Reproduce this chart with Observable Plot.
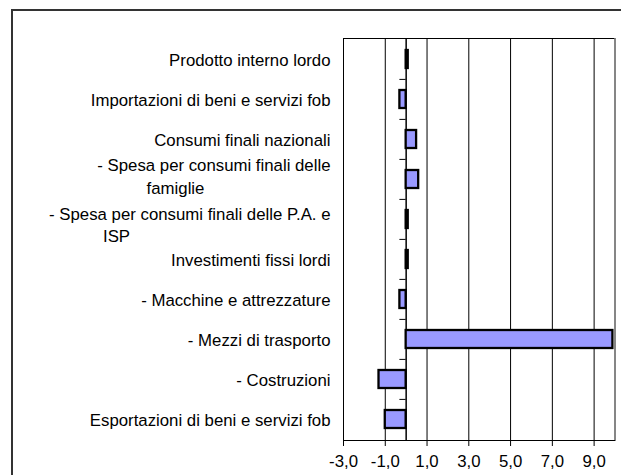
<!DOCTYPE html>
<html>
<head>
<meta charset="utf-8">
<script src="https://cdn.jsdelivr.net/npm/d3@7"></script>
<script src="https://cdn.jsdelivr.net/npm/@observablehq/plot@0.6"></script>
<style>
  html, body { margin: 0; padding: 0; background: #fff; }
  #wrap { position: relative; width: 621px; height: 475px; overflow: hidden; }
  #outer { position: absolute; z-index: 2; left: 11px; top: 9px; width: 700px; height: 600px; border: 2px solid #333; box-sizing: border-box; pointer-events: none; }
  #chart { position: absolute; z-index: 1; left: 0; top: 0; }
</style>
</head>
<body>
<div id="wrap"><div id="outer"></div><div id="chart"></div></div>
<script>
const categories = [
  "Prodotto interno lordo",
  "Importazioni di beni e servizi fob",
  "Consumi finali nazionali",
  "- Spesa per consumi finali delle famiglie",
  "- Spesa per consumi finali delle P.A. e ISP",
  "Investimenti fissi lordi",
  "- Macchine e attrezzature",
  "- Mezzi di trasporto",
  "- Costruzioni",
  "Esportazioni di beni e servizi fob"
];
const values = [0.1, -0.3, 0.5, 0.6, 0.1, 0.1, -0.3, 9.9, -1.3, -1.0];
const labelLines = [
  ["Prodotto interno lordo"],
  ["Importazioni di beni e servizi fob"],
  ["Consumi finali nazionali"],
  ["- Spesa per consumi finali delle", "famiglie"],
  ["- Spesa per consumi finali delle P.A. e", "ISP"],
  ["Investimenti fissi lordi"],
  ["- Macchine e attrezzature"],
  ["- Mezzi di trasporto"],
  ["- Costruzioni"],
  ["Esportazioni di beni e servizi fob"]
];
const xTicks = [-3, -1, 1, 3, 5, 7, 9];

const rows = categories.map((c, i) => ({cat: c, value: values[i], lines: labelLines[i]}));
const single = rows.filter(d => d.lines.length === 1);
const wrapA = rows.filter(d => d.lines.length > 1).slice(0, 1);
const wrapB = rows.filter(d => d.lines.length > 1).slice(1, 2);

const W = 621, H = 475, mL = 343, mT = 38, mR = 6.5, mB = 35;
const step = (H - mT - mB) / categories.length;
const fmt = v => (v < 0 ? "-" : "") + Math.abs(v).toFixed(1).replace(".", ",");
const font = "'Liberation Sans', Arial, sans-serif";
const fs = "16.8px";
const txt = {frameAnchor: "left", fill: "#000", fontSize: fs, fontFamily: font};

const chart = Plot.plot({
  width: W,
  height: H,
  marginLeft: mL,
  marginTop: mT,
  marginRight: mR,
  marginBottom: mB,
  style: {fontFamily: font, fontSize: fs, background: "transparent", color: "#000"},
  x: {domain: [-3, 10], ticks: xTicks, tickFormat: fmt, label: null},
  y: {domain: categories, paddingInner: 0.55, paddingOuter: 0.275, axis: null, label: null},
  marks: [
    Plot.gridX(xTicks, {stroke: "#000", strokeOpacity: 1, strokeWidth: 1}),
    Plot.ruleX([0], {stroke: "#000", strokeWidth: 1.5}),
    Plot.ruleY(rows.slice(1), {y: "cat", x1: -0.3, x2: 0, dy: -step / 2, stroke: "#000", strokeWidth: 1}),
    Plot.barX(rows, {x: "value", y: "cat", fill: "#9999ff", stroke: "#000", strokeWidth: 2.3}),
    Plot.frame({stroke: "#000", strokeWidth: 1}),
    Plot.ruleX([10], {stroke: "#888", strokeWidth: 1.5}),
    Plot.axisX({ticks: xTicks, tickFormat: fmt, tickSize: 6, tickPadding: 9, stroke: "#000", fontSize: fs, fontFamily: font, label: null}),
    Plot.text(single, {...txt, y: "cat", text: d => d.lines[0], textAnchor: "end", dx: -13, dy: 1}),
    Plot.text(wrapA, {...txt, y: "cat", text: d => d.lines[0], textAnchor: "end", dx: -13, dy: -14}),
    Plot.text(wrapA, {...txt, y: "cat", text: d => d.lines[1], textAnchor: "middle", dx: -168, dy: 9}),
    Plot.text(wrapB, {...txt, y: "cat", text: d => d.lines[0], textAnchor: "end", dx: -13, dy: -5}),
    Plot.text(wrapB, {...txt, y: "cat", text: d => d.lines[1], textAnchor: "middle", dx: -227, dy: 17})
  ]
});
document.getElementById("chart").appendChild(chart);
</script>
</body>
</html>
